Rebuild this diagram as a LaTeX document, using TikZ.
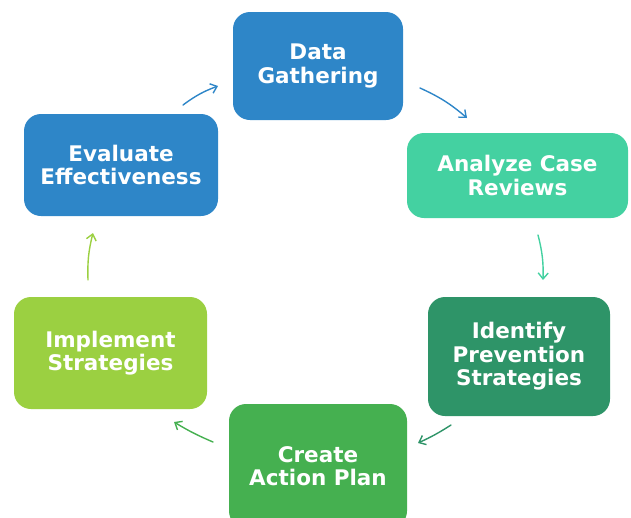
\documentclass[tikz,border=0pt]{standalone}
\usepackage{fontspec}
\setmainfont{DejaVu Sans}
\usepackage{tikz}
\usetikzlibrary{arrows.meta}
\definecolor{cBlue}{HTML}{2E86C8}
\definecolor{cTeal}{HTML}{44D1A1}
\definecolor{cDark}{HTML}{2E9468}
\definecolor{cGreen}{HTML}{45B050}
\definecolor{cLime}{HTML}{9BD041}

\begin{document}
\begin{tikzpicture}[line cap=round,line join=round,x=1pt,y=-1pt
  ,box/.style={rounded corners=17pt,align=center,text=white,
    font=\fontsize{21.5}{23.5}\selectfont\bfseries,inner sep=0pt},
  cyc/.style={line width=1.4pt,-{Straight Barb[length=6pt,width=10pt]}}]
  \useasboundingbox (0,0) rectangle (631,517);
  % boxes
  \node[box,fill=cBlue,minimum width=170pt,minimum height=108pt] (gather) at (318,66) {Data\\Gathering};
  \node[box,fill=cTeal,minimum width=221pt,minimum height=85pt] (analyze) at (517.5,175.5) {Analyze Case\\Reviews};
  \node[box,fill=cDark,minimum width=182pt,minimum height=119pt] (identify) at (519,356.5) {Identify\\Prevention\\Strategies};
  \node[box,fill=cGreen,minimum width=178pt,minimum height=124pt] (plan) at (318,466) {Create\\Action Plan};
  \node[box,fill=cLime,minimum width=193pt,minimum height=112pt] (implement) at (110.5,353) {Implement\\Strategies};
  \node[box,fill=cBlue,minimum width=194pt,minimum height=102pt] (evaluate) at (121,165) {Evaluate\\Effectiveness};
  % arrow ends
  \coordinate (e1) at (183,105); \coordinate (g1) at (218,86);
  \coordinate (g2) at (420,88);  \coordinate (a2) at (467,118);
  \coordinate (a3) at (538,235); \coordinate (i3) at (543,280);
  \coordinate (i4) at (451,425); \coordinate (p4) at (418,443);
  \coordinate (p5) at (213,442); \coordinate (m5) at (174,422);
  \coordinate (m6) at (88,280);  \coordinate (e6) at (93,233);
  \draw[cyc,cBlue] (e1) to[bend left=8] (g1);
  \draw[cyc,cBlue] (g2) to[bend left=8] (a2);
  \draw[cyc,cTeal] (a3) to[bend left=8] (i3);
  \draw[cyc,cDark] (i4) to[bend left=4] (p4);
  \draw[cyc,cGreen] (p5) to[bend left=4] (m5);
  \draw[cyc,cLime] (m6) to[bend left=8] (e6);
\end{tikzpicture}
\end{document}
